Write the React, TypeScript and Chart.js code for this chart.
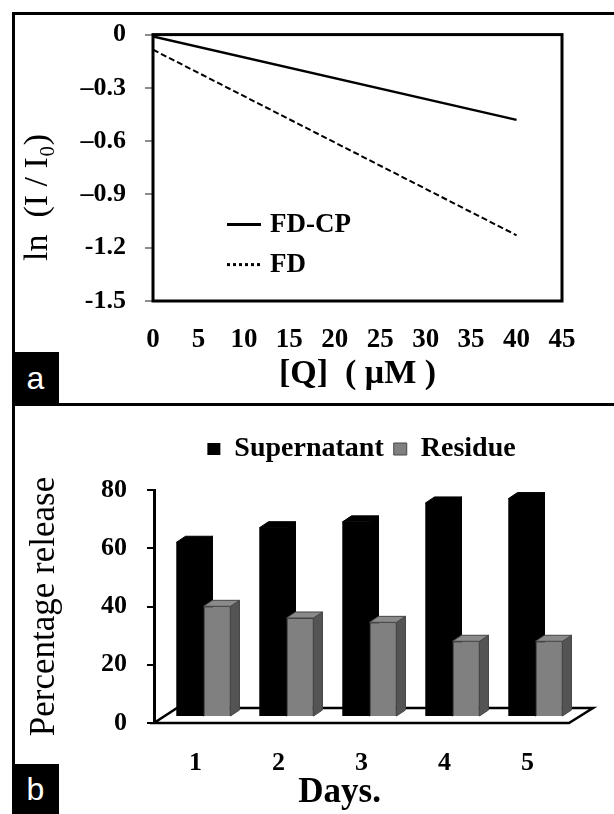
import React, { useEffect, useRef } from 'react';
import { Chart, registerables } from 'chart.js';

Chart.register(...registerables);

const SERIF = '"Liberation Serif", "Times New Roman", Times, serif';
const SANS = '"Liberation Sans", Arial, Helvetica, sans-serif';

// ---------- Panel a data ----------
const concentrationUM = [0, 40];
const fdcpLnRatio = [-0.01, -0.48];
const fdLnRatio = [-0.085, -1.13];
const aXTickValues = [0, 5, 10, 15, 20, 25, 30, 35, 40, 45];
const aYTickValues = [0, -0.3, -0.6, -0.9, -1.2, -1.5];
const aYTickLabels = ['0', '–0.3', '–0.6', '–0.9', '-1.2', '-1.5'];
const aSeriesLabels = ['FD-CP', 'FD'];

// ---------- Panel b data ----------
const days = ['1', '2', '3', '4', '5'];
const supernatantRelease = [60, 65, 67, 73.5, 75];
const residueRelease = [38, 34, 32.5, 26, 26];
const bYTickValues = [0, 20, 40, 60, 80];
const bSeriesLabels = ['Supernatant', 'Residue'];

const frameLegendPlugin = {
  id: 'frameLegendA',
  afterDatasetsDraw(chart: any) {
    const { ctx, chartArea } = chart;
    const { left, top, right, bottom } = chartArea;
    ctx.save();
    ctx.strokeStyle = '#000';
    ctx.lineWidth = 3;
    ctx.strokeRect(left, top, right - left, bottom - top);
    ctx.restore();
  },
  afterDraw(chart: any) {
    const { ctx, chartArea } = chart;
    const { left, top } = chartArea;
    chart.data.datasets.forEach((ds: any, i: number) => {
      const y = top + 190 + i * 40;
      ctx.save();
      ctx.strokeStyle = ds.borderColor;
      ctx.lineWidth = 3;
      ctx.setLineDash(ds.legendDash || []);
      ctx.beginPath();
      ctx.moveTo(left + 74, y);
      ctx.lineTo(left + 108, y);
      ctx.stroke();
      ctx.setLineDash([]);
      ctx.fillStyle = '#000';
      ctx.font = `bold 27px ${SERIF}`;
      ctx.textBaseline = 'middle';
      ctx.textAlign = 'left';
      ctx.fillText(ds.label, left + 117, y);
      ctx.restore();
    });
  },
};

const SHIFT_X = 8;
const SHIFT_Y = -6;
const DEPTH_X = 9;
const DEPTH_Y = -6;
const FLOOR_DX = 24;
const FLOOR_DY = -15;
const LEGEND_EXTRA = 17;

const bar3dPlugin = {
  id: 'bar3d',
  beforeLayout(chart: any) {
    const lg = chart.legend;
    if (lg && !lg.__patched) {
      const orig = lg.fit.bind(lg);
      lg.fit = () => {
        orig();
        lg.height += LEGEND_EXTRA;
      };
      lg.__patched = true;
    }
  },
  beforeDatasetsDraw(chart: any) {
    const { ctx, chartArea } = chart;
    const { left, right, bottom } = chartArea;
    ctx.save();
    ctx.beginPath();
    ctx.moveTo(left, bottom);
    ctx.lineTo(right, bottom);
    ctx.lineTo(right + FLOOR_DX, bottom + FLOOR_DY);
    ctx.lineTo(left + FLOOR_DX - 1, bottom + FLOOR_DY);
    ctx.closePath();
    ctx.fillStyle = '#fff';
    ctx.fill();
    ctx.lineWidth = 2.5;
    ctx.strokeStyle = '#000';
    ctx.stroke();
    ctx.restore();
    ctx.save();
    ctx.translate(SHIFT_X, SHIFT_Y);
  },
  afterDatasetsDraw(chart: any) {
    const ctx = chart.ctx;
    // redraw each series in index order with its 3D faces, so the grey
    // bars sit in front of the black bars' side faces
    chart.data.datasets.forEach((ds: any, di: number) => {
      const meta = chart.getDatasetMeta(di);
      meta.data.forEach((el: any) => {
        el.draw(ctx);
        const { x, y, base, width } = el.getProps(['x', 'y', 'base', 'width'], true);
        const l = x - width / 2;
        const r = x + width / 2;
        ctx.save();
        ctx.lineWidth = 1;
        ctx.strokeStyle = ds.edgeColor;
        ctx.beginPath();
        ctx.moveTo(r, y);
        ctx.lineTo(r + DEPTH_X, y + DEPTH_Y);
        ctx.lineTo(r + DEPTH_X, base + DEPTH_Y);
        ctx.lineTo(r, base);
        ctx.closePath();
        ctx.fillStyle = ds.sideColor;
        ctx.fill();
        ctx.stroke();
        ctx.beginPath();
        ctx.moveTo(l, y);
        ctx.lineTo(l + DEPTH_X, y + DEPTH_Y);
        ctx.lineTo(r + DEPTH_X, y + DEPTH_Y);
        ctx.lineTo(r, y);
        ctx.closePath();
        ctx.fillStyle = ds.topColor;
        ctx.fill();
        ctx.stroke();
        ctx.restore();
      });
    });
    ctx.restore();
  },
};

function tickLabel(values: number[], labels: string[]) {
  return (v: any) => {
    const i = values.findIndex((t) => Math.abs(t - Number(v)) < 1e-6);
    return i >= 0 ? labels[i] : '';
  };
}

export default function App() {
  const refA = useRef<HTMLCanvasElement>(null);
  const refB = useRef<HTMLCanvasElement>(null);

  useEffect(() => {
    const chartA = new Chart(refA.current as HTMLCanvasElement, {
      type: 'scatter',
      data: {
        datasets: [
          {
            label: aSeriesLabels[0],
            data: concentrationUM.map((x, i) => ({ x, y: fdcpLnRatio[i] })),
            showLine: true,
            borderColor: '#000',
            backgroundColor: '#000',
            borderWidth: 2.5,
            pointRadius: 0,
            legendDash: [],
          } as any,
          {
            label: aSeriesLabels[1],
            data: concentrationUM.map((x, i) => ({ x, y: fdLnRatio[i] })),
            showLine: true,
            borderColor: '#000',
            backgroundColor: '#000',
            borderWidth: 2,
            borderDash: [6, 3],
            pointRadius: 0,
            legendDash: [3, 3],
          } as any,
        ],
      },
      options: {
        responsive: false,
        animation: false,
        layout: { padding: { top: 32, right: 52, left: 0, bottom: 0 } },
        plugins: { legend: { display: false }, tooltip: { enabled: false } },
        scales: {
          x: {
            type: 'linear',
            min: 0,
            max: 45,
            afterBuildTicks: (s: any) => {
              s.ticks = aXTickValues.map((v) => ({ value: v }));
            },
            afterFit: (s: any) => {
              s.height = 103;
            },
            grid: { display: false, drawTicks: false },
            border: { display: false },
            ticks: {
              color: '#000',
              font: { family: SERIF, size: 27, weight: 'bold' },
              padding: 23,
              maxRotation: 0,
              autoSkip: false,
              callback: tickLabel(aXTickValues, aXTickValues.map(String)),
            },
            title: {
              display: true,
              text: '[Q]  ( μM )',
              color: '#000',
              font: { family: SERIF, size: 34, weight: 'bold' },
              padding: { top: 0, bottom: 9 },
            },
          },
          y: {
            min: -1.5,
            max: 0,
            afterBuildTicks: (s: any) => {
              s.ticks = aYTickValues.map((v) => ({ value: v }));
            },
            afterFit: (s: any) => {
              s.width = 153;
            },
            grid: {
              display: true,
              drawOnChartArea: false,
              drawTicks: true,
              tickLength: 8,
              color: '#8c8c8c',
              lineWidth: 2,
            },
            border: { display: false },
            ticks: {
              color: '#000',
              font: { family: SERIF, size: 26, weight: 'bold' },
              padding: 19,
              autoSkip: false,
              callback: tickLabel(aYTickValues, aYTickLabels),
            },
            title: {
              display: true,
              text: 'ln  (I / I₀)       ',
              color: '#000',
              font: { family: SERIF, size: 34 },
              padding: { top: 18, bottom: 0 },
            },
          },
        },
      } as any,
      plugins: [frameLegendPlugin],
    });

    const chartB = new Chart(refB.current as HTMLCanvasElement, {
      type: 'bar',
      data: {
        labels: days,
        datasets: [
          {
            label: bSeriesLabels[0],
            data: supernatantRelease,
            backgroundColor: '#000',
            borderColor: '#000',
            borderWidth: 0,
            clip: false,
            sideColor: '#000',
            topColor: '#000',
            edgeColor: '#000',
          } as any,
          {
            label: bSeriesLabels[1],
            data: residueRelease,
            backgroundColor: '#808080',
            borderColor: '#454545',
            borderWidth: 1,
            clip: false,
            sideColor: '#545454',
            topColor: '#8a8a8a',
            edgeColor: '#454545',
          } as any,
        ],
      },
      options: {
        responsive: false,
        animation: false,
        layout: { padding: { top: 19, right: 45, left: 0, bottom: 0 } },
        datasets: { bar: { categoryPercentage: 0.65, barPercentage: 1 } },
        plugins: {
          tooltip: { enabled: false },
          legend: {
            display: true,
            position: 'top',
            fullSize: false,
            labels: {
              boxWidth: 13,
              boxHeight: 12,
              color: '#000',
              font: { family: SERIF, size: 28, weight: 'bold' },
              padding: 10,
            },
          },
        },
        scales: {
          x: {
            afterFit: (s: any) => {
              s.height = 91;
            },
            grid: { display: false, drawTicks: false },
            border: { display: false },
            ticks: {
              color: '#000',
              font: { family: SERIF, size: 26, weight: 'bold' },
              padding: 25,
              maxRotation: 0,
            },
            title: {
              display: true,
              text: 'Days.     ',
              color: '#000',
              font: { family: SERIF, size: 35, weight: 'bold' },
              padding: { top: 0, bottom: 0 },
            },
          },
          y: {
            min: 0,
            max: 80,
            afterBuildTicks: (s: any) => {
              s.ticks = bYTickValues.map((v) => ({ value: v }));
            },
            afterFit: (s: any) => {
              s.width = 154;
            },
            grid: {
              display: true,
              drawOnChartArea: false,
              drawTicks: true,
              tickLength: 7,
              color: '#000',
              lineWidth: 2,
            },
            border: { display: true, color: '#000', width: 3 },
            ticks: {
              color: '#000',
              font: { family: SERIF, size: 26, weight: 'bold' },
              padding: 20,
              autoSkip: false,
              callback: tickLabel(bYTickValues, bYTickValues.map(String)),
            },
            title: {
              display: true,
              text: 'Percentage release',
              color: '#000',
              font: { family: SERIF, size: 35 },
              padding: { top: 24, bottom: 0 },
            },
          },
        },
      } as any,
      plugins: [bar3dPlugin],
    });

    return () => {
      chartA.destroy();
      chartB.destroy();
    };
  }, []);

  const labelBox = (top: number, height: number, text: string) => (
    <div
      style={{
        position: 'absolute',
        left: 12,
        top,
        width: 47,
        height,
        background: '#000',
        color: '#fff',
        fontFamily: SANS,
        fontSize: 32,
        lineHeight: `${height}px`,
        textAlign: 'center',
      }}
    >
      {text}
    </div>
  );

  return (
    <div
      style={{
        position: 'absolute',
        left: 0,
        top: 0,
        width: 614,
        height: 814,
        background: '#fff',
        overflow: 'hidden',
      }}
    >
      <canvas
        ref={refA}
        width={614}
        height={404}
        style={{ position: 'absolute', left: 0, top: 0, width: 614, height: 404 }}
      />
      <canvas
        ref={refB}
        width={614}
        height={408}
        style={{ position: 'absolute', left: 0, top: 406, width: 614, height: 408 }}
      />
      <div style={{ position: 'absolute', left: 12, top: 12, width: 3, height: 802, background: '#000' }} />
      <div style={{ position: 'absolute', left: 12, top: 12, width: 602, height: 3, background: '#000' }} />
      <div style={{ position: 'absolute', left: 12, top: 403, width: 602, height: 3, background: '#000' }} />
      {labelBox(352, 52, 'a')}
      {labelBox(764, 50, 'b')}
    </div>
  );
}
